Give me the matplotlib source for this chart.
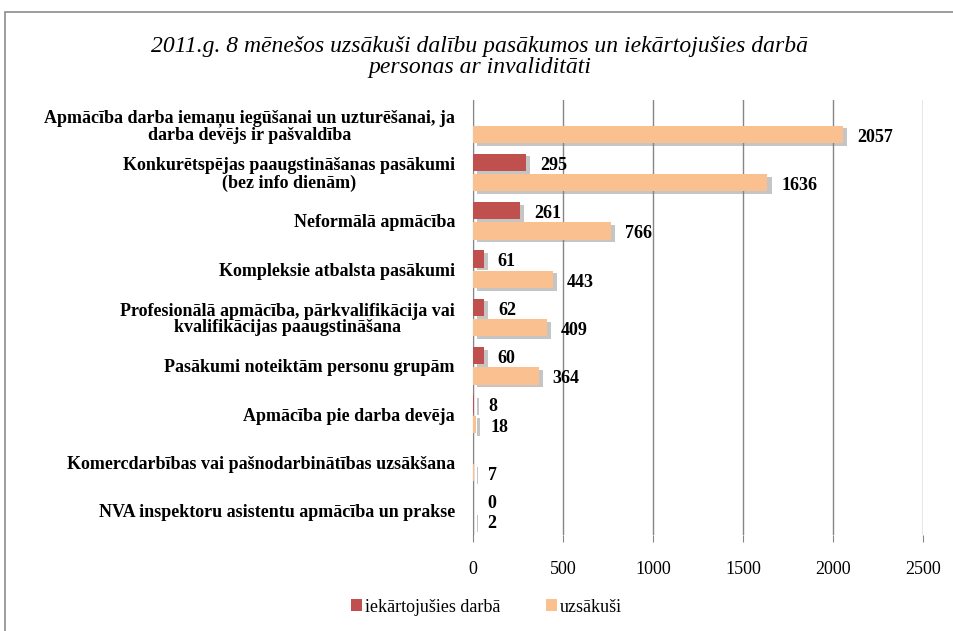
import numpy as np
import matplotlib
matplotlib.use("Agg")
import matplotlib.pyplot as plt
import matplotlib.patheffects as pe
from matplotlib.patches import Rectangle, Patch

categories = [
    "Apmācība darba iemaņu iegūšanai un uzturēšanai, ja\ndarba devējs ir pašvaldība",
    "Konkurētspējas paaugstināšanas pasākumi\n(bez info dienām)",
    "Neformālā apmācība",
    "Kompleksie atbalsta pasākumi",
    "Profesionālā apmācība, pārkvalifikācija vai\nkvalifikācijas paaugstināšana",
    "Pasākumi noteiktām personu grupām",
    "Apmācība pie darba devēja",
    "Komercdarbības vai pašnodarbinātības uzsākšana",
    "NVA inspektoru asistentu apmācība un prakse",
]
iekartojusies = [np.nan, 295, 261, 61, 62, 60, 8, np.nan, 0]
uzsakusi = [2057, 1636, 766, 443, 409, 364, 18, 7, 2]
series_names = ["iekārtojušies darbā", "uzsākuši"]
title = "2011.g. 8 mēnešos uzsākuši dalību pasākumos un iekārtojušies darbā\npersonas ar invaliditāti"
xticks = [0, 500, 1000, 1500, 2000, 2500]

red = "#C0504D"
orange = "#FAC08F"
serif = ["Liberation Serif", "DejaVu Serif"]

fig = plt.figure(figsize=(9.54, 6.31), dpi=100)
fig.patch.set_facecolor("white")
# outer frame
fig.add_artist(Rectangle((5/954, -0.2), 1.2, 1 - 12/631 + 0.2, transform=fig.transFigure,
                         fill=False, edgecolor="#8c8c8c", linewidth=1.2))

ax = fig.add_axes([473/954, 1 - 535/631, (923 - 473)/954, (535 - 100)/631])
n = len(categories)
y = np.arange(n)
h = 0.36
off = 0.21
shadow = [pe.SimplePatchShadow(offset=(3, -2), shadow_rgbFace="#808080", alpha=0.45), pe.Normal()]

r_vals = np.array(iekartojusies, dtype=float)
o_vals = np.array(uzsakusi, dtype=float)
b1 = ax.barh(y - off, np.nan_to_num(r_vals), height=h, color=red, zorder=3)
b2 = ax.barh(y + off, o_vals, height=h, color=orange, zorder=3)
for b in list(b1) + list(b2):
    b.set_path_effects(shadow)

for i in range(n):
    if not np.isnan(r_vals[i]):
        ax.annotate(f"{int(r_vals[i])}", (r_vals[i], y[i] - off), xytext=(10, -2),
                    textcoords="offset points", va="center", ha="left",
                    fontsize=13, fontweight="bold", family=serif, zorder=5)
    if not np.isnan(o_vals[i]):
        ax.annotate(f"{int(o_vals[i])}", (o_vals[i], y[i] + off), xytext=(10, -2),
                    textcoords="offset points", va="center", ha="left",
                    fontsize=13, fontweight="bold", family=serif, zorder=5)

ax.set_ylim(n - 0.5, -0.5)
ax.set_xlim(0, 2500)
ax.set_xticks(xticks)
ax.set_xticklabels([str(t) for t in xticks], family=serif, fontsize=13)
ax.set_yticks(y)
ax.set_yticklabels(categories, family=serif, fontsize=13, fontweight="bold",
                   multialignment="center", linespacing=1.0)
ax.tick_params(axis="y", length=0, pad=13)
ax.tick_params(axis="x", length=5, color="#868686", pad=14)
ax.grid(axis="x", color="#868686", linewidth=1.0, zorder=0)
for s in ["top", "right", "bottom"]:
    ax.spines[s].set_visible(False)
ax.spines["left"].set_color("#868686")

fig.text(0.503, 1 - 57/631, title, ha="center", va="center", family=serif,
         style="italic", fontsize=17, linespacing=1.05)

handles = [Patch(facecolor=red), Patch(facecolor=orange)]
fig.legend(handles, series_names, loc="center", bbox_to_anchor=(0.51, 1 - 607/631), ncol=2,
           frameon=False, prop={"family": serif, "size": 13}, handlelength=0.6,
           handleheight=0.6, handletextpad=0.2, columnspacing=2.5)

fig.savefig("out.png", dpi=100, facecolor="white")
